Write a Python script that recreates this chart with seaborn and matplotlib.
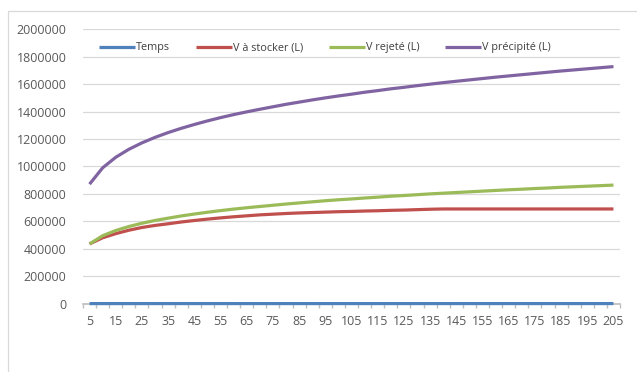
import pandas as pd
import numpy as np
import matplotlib.pyplot as plt
import seaborn as sns
from matplotlib.lines import Line2D
from matplotlib.ticker import FuncFormatter

sns.set_theme(style='white')
plt.rcParams['font.family'] = ['Open Sans', 'DejaVu Sans']

# Data (time in minutes, volumes in litres)
temps = [5, 10, 15, 20, 25, 30, 35, 40, 45, 50, 55, 60, 65, 70, 75, 80, 85, 90, 95, 100,
         105, 110, 115, 120, 125, 130, 135, 140, 145, 150, 155, 160, 165, 170, 175, 180,
         185, 190, 195, 200, 205]
v_precipite = [871000, 990000, 1067000, 1125000, 1172000, 1212000, 1247000, 1278000,
               1306000, 1332000, 1356000, 1378000, 1398000, 1417000, 1435000, 1453000,
               1469000, 1485000, 1500000, 1514000, 1527000, 1541000, 1553000, 1566000,
               1577000, 1589000, 1600000, 1611000, 1621000, 1631000, 1641000, 1651000,
               1660000, 1669000, 1678000, 1687000, 1696000, 1704000, 1712000, 1720000,
               1728000]
v_rejete = [435000, 495000, 533000, 562000, 586000, 606000, 623000, 639000, 653000,
            666000, 678000, 689000, 699000, 708000, 717000, 726000, 734000, 742000,
            750000, 757000, 763000, 770000, 776000, 783000, 788000, 794000, 800000,
            805000, 810000, 815000, 820000, 825000, 830000, 834000, 839000, 843000,
            848000, 852000, 856000, 860000, 864000]
v_stocker = [435000, 480000, 510000, 535000, 555000, 570000, 582000, 595000, 606000,
             616000, 625000, 633000, 640000, 647000, 652000, 657000, 661000, 664000,
             667000, 670000, 672000, 675000, 677000, 680000, 682000, 685000, 688000,
             690000, 690000, 690000, 690000, 690000, 690000, 690000, 690000, 690000,
             690000, 690000, 690000, 690000, 690000]

series_names = ['Temps', 'V à stocker (L)', 'V rejeté (L)', 'V précipité (L)']
colors = ['#4f81bd', '#c0504d', '#9bbb59', '#8064a2']
y_ticks = [0, 200000, 400000, 600000, 800000, 1000000, 1200000, 1400000, 1600000,
           1800000, 2000000]

pos = np.arange(len(temps))
df = pd.concat([
    pd.DataFrame({'pos': pos, 'valeur': vals, 'serie': name})
    for name, vals in zip(series_names, [temps, v_stocker, v_rejete, v_precipite])
])

fig = plt.figure(figsize=(6.37, 3.72), dpi=100)
ax = fig.add_axes([83 / 637, 1 - 303.6 / 372, 537 / 637, 274.3 / 372])

sns.lineplot(data=df, x='pos', y='valeur', hue='serie', hue_order=series_names,
             palette=colors, linewidth=2.3, legend=False, ax=ax, clip_on=False)
for ln in ax.lines:
    ln.set_solid_capstyle('butt')
    ln.set_solid_joinstyle('round')
# keep the Temps line on the axis, drawn last like Excel
ax.lines[0].set_zorder(3)

ax.set_xlim(-0.5, len(temps) - 0.5)
ax.set_ylim(0, 2000000)
ax.set_yticks(y_ticks)
ax.yaxis.set_major_formatter(FuncFormatter(lambda v, p: f'{int(v)}'))
ax.set_xticks(pos[::2])
ax.set_xticklabels([str(t) for t in temps[::2]])
ax.set_xticks(np.arange(-0.5, len(temps), 1), minor=True)
ax.tick_params(axis='x', which='major', length=0, pad=8, labelsize=8.9, colors='#595959')
ax.tick_params(axis='x', which='minor', length=3, color='#bfbfbf', bottom=True)
ax.tick_params(axis='y', length=0, pad=12, labelsize=8.9, colors='#595959')
ax.set_xlabel('')
ax.set_ylabel('')

ax.grid(axis='y', color='#d9d9d9', linewidth=0.9)
for s in ['top', 'right', 'left']:
    ax.spines[s].set_visible(False)
ax.spines['bottom'].set_color('#bfbfbf')

handles = [Line2D([], [], color=c, linewidth=2.3, solid_capstyle='butt') for c in colors]
ax.legend(handles, series_names, loc='center left', bbox_to_anchor=(0.03, 0.932),
          ncol=4, frameon=False, fontsize=7.8, handlelength=3.3, handletextpad=0.1,
          columnspacing=2.4, borderpad=0, borderaxespad=0, labelcolor='#404040')

# chart area border
fig.add_artist(Line2D([8 / 637, 8 / 637], [0, 1 - 11 / 372], color='#d9d9d9', linewidth=0.9))
fig.add_artist(Line2D([8 / 637, 1], [1 - 11 / 372, 1 - 11 / 372], color='#d9d9d9', linewidth=0.9))

plt.savefig('out.png', dpi=100)
